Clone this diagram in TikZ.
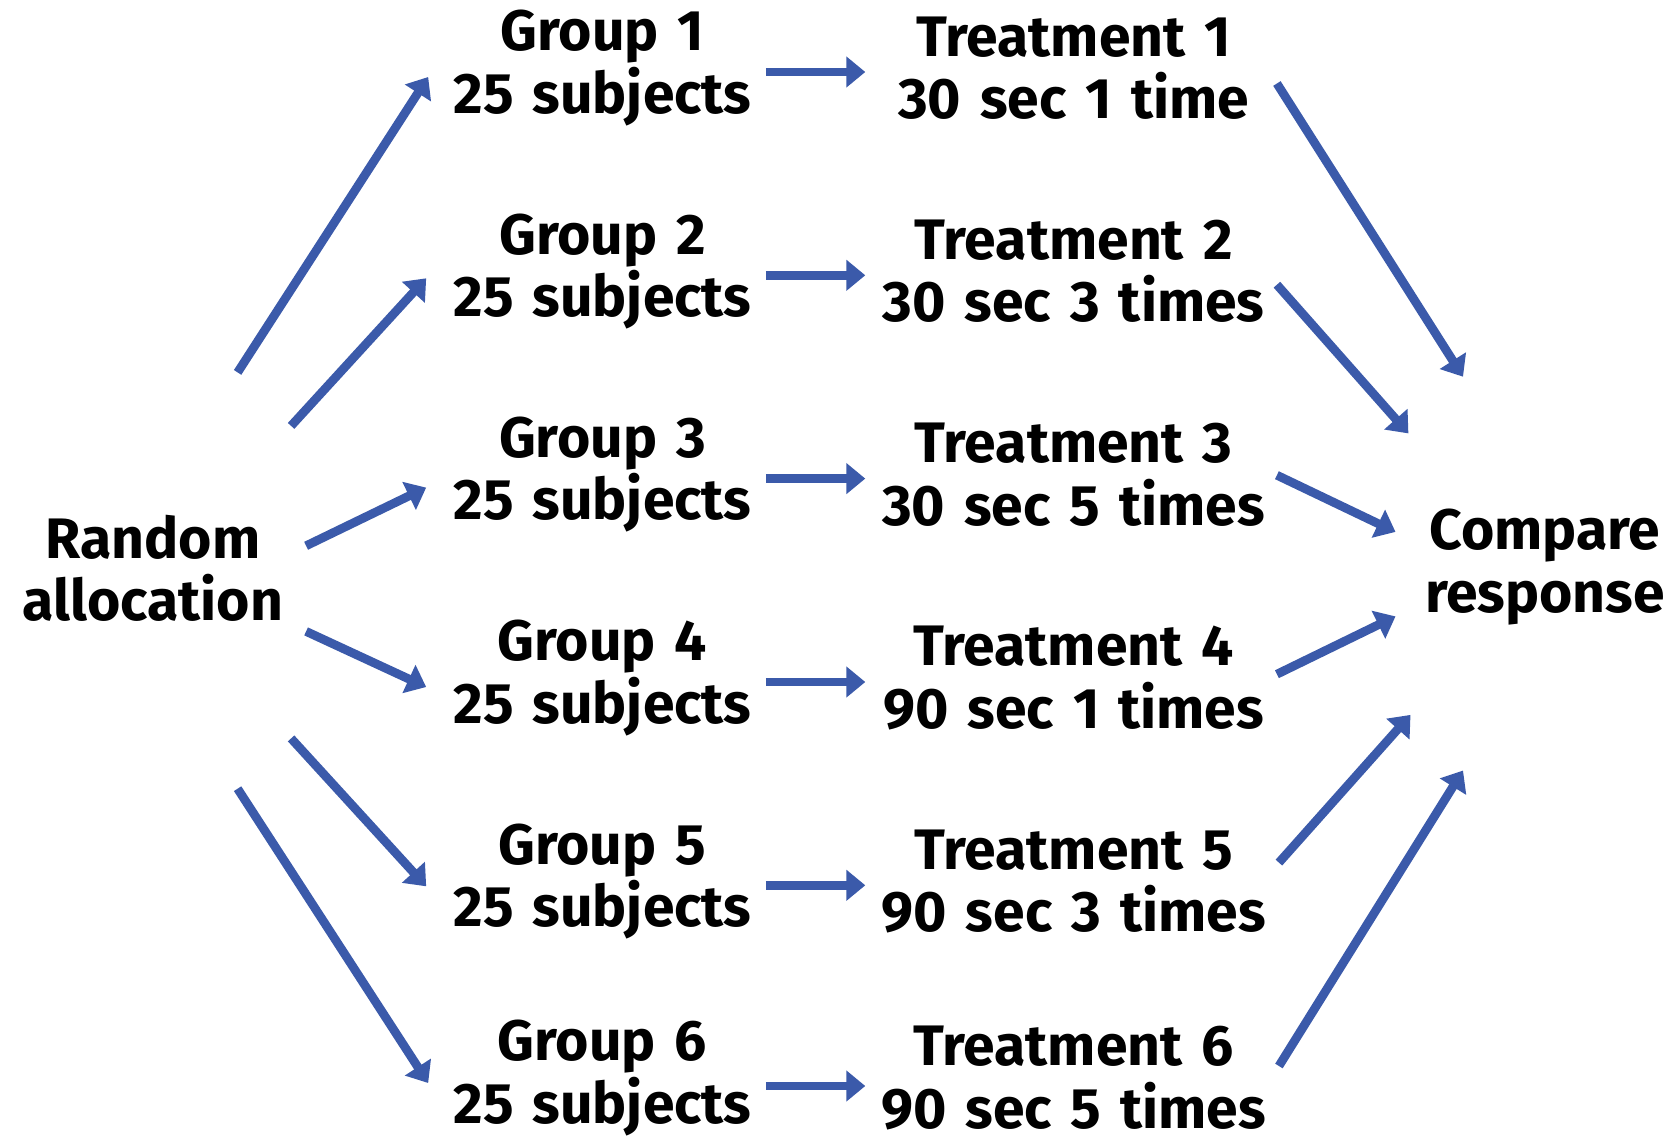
\documentclass[tikz,border=0pt]{standalone}
\usepackage{fontspec}
\setmainfont{Fira Sans}
\usetikzlibrary{arrows.meta,positioning}

\definecolor{flowblue}{RGB}{59,90,170}

\begin{document}
\begin{tikzpicture}[
    x=0.02cm, y=-0.02cm,
    txt/.style={font=\bfseries\fontsize{32.5}{35.5}\selectfont, align=center, inner xsep=0.12cm, inner ysep=0.04cm},
    groupbox/.style={txt, text width=6.24cm},
    treatbox/.style={txt, text width=8.2cm},
    flow/.style={-{Triangle[length=0.38cm,width=0.6cm]}, line width=5pt, flowblue}
]
    \useasboundingbox (0,0) rectangle (1678,1143);

    % Start and end
    \node[txt] (rand) at (153,568) {Random\\allocation};
    \node[txt] (cmp) at (1545,567) {Compare\\response};

    % Groups
    \node[groupbox] (g1) at (602.5,68) {Group 1\\25 subjects};
    \node[groupbox] (g2) at (602.5,271.3) {Group 2\\25 subjects};
    \node[groupbox] (g3) at (602.5,474.6) {Group 3\\25 subjects};
    \node[groupbox] (g4) at (602.5,678) {Group 4\\25 subjects};
    \node[groupbox] (g5) at (602.5,881.3) {Group 5\\25 subjects};
    \node[groupbox] (g6) at (602.5,1078) {Group 6\\25 subjects};

    % Treatments
    \node[treatbox, right=1.95cm of g1] (t1) {Treatment 1\\30 sec 1 time};
    \node[treatbox, right=1.95cm of g2] (t2) {Treatment 2\\30 sec 3 times};
    \node[treatbox, right=1.95cm of g3] (t3) {Treatment 3\\30 sec 5 times};
    \node[treatbox, right=1.95cm of g4] (t4) {Treatment 4\\90 sec 1 times};
    \node[treatbox, right=1.95cm of g5] (t5) {Treatment 5\\90 sec 3 times};
    \node[treatbox, right=1.95cm of g6] (t6) {Treatment 6\\90 sec 5 times};

    % Allocation arrows
    \draw[flow] ([shift={(84.6,-195.6)}]rand.center) -- ([shift={(-12,9)}]g1.west);
    \draw[flow] ([shift={(138.1,-142.1)}]rand.center) -- ([shift={(-14,7)}]g2.west);
    \draw[flow] ([shift={(153.1,-22.2)}]rand.center) -- ([shift={(-14,13)}]g3.west);
    \draw[flow] ([shift={(153.1,63.4)}]rand.center) -- ([shift={(-14,9)}]g4.west);
    \draw[flow] ([shift={(138.1,170.4)}]rand.center) -- ([shift={(-14,5)}]g5.west);
    \draw[flow] ([shift={(84.6,220.7)}]rand.center) -- ([shift={(-12,5)}]g6.west);

    % Group to treatment
    \draw[flow] ([shift={(1,4)}]g1.east) -- ([shift={(3,4)}]t1.west);
    \draw[flow] ([shift={(1,4)}]g2.east) -- ([shift={(3,4)}]t2.west);
    \draw[flow] ([shift={(1,4)}]g3.east) -- ([shift={(3,4)}]t3.west);
    \draw[flow] ([shift={(1,4)}]g4.east) -- ([shift={(3,4)}]t4.west);
    \draw[flow] ([shift={(1,4)}]g5.east) -- ([shift={(3,4)}]t5.west);
    \draw[flow] ([shift={(1,8)}]g6.east) -- ([shift={(3,8)}]t6.west);

    % Treatment to comparison
    \draw[flow] ([shift={(-8,15.5)}]t1.east) -- ([shift={(-82,-190.3)}]cmp.center);
    \draw[flow] ([shift={(-8,13.4)}]t2.east) -- ([shift={(-136.6,-133.6)}]cmp.center);
    \draw[flow] ([shift={(-8,0.6)}]t3.east) -- ([shift={(-149.5,-35.1)}]cmp.center);
    \draw[flow] ([shift={(-8,-3.8)}]t4.east) -- ([shift={(-149.5,49.4)}]cmp.center);
    \draw[flow] ([shift={(-6,-18.7)}]t5.east) -- ([shift={(-134.5,147.9)}]cmp.center);
    \draw[flow] ([shift={(-6,-12)}]t6.east) -- ([shift={(-82,203.5)}]cmp.center);
\end{tikzpicture}
\end{document}
